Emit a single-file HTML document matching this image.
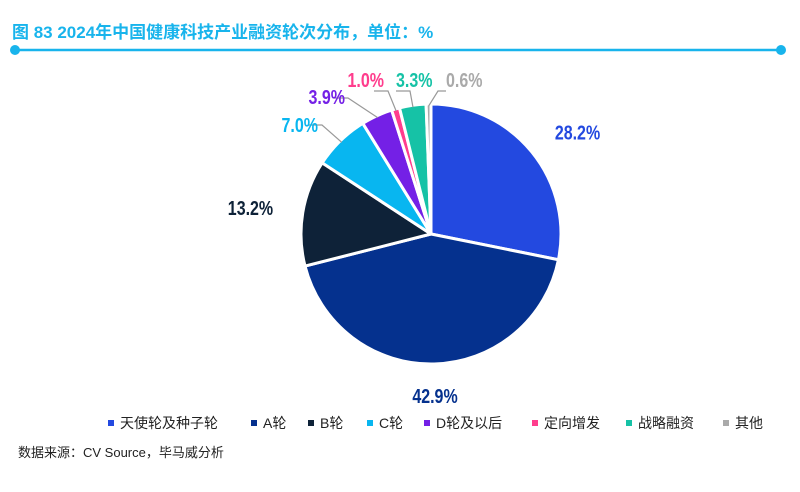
<!DOCTYPE html>
<html><head><meta charset="utf-8"><style>
body{margin:0;background:#fff;width:800px;height:487px;overflow:hidden;font-family:"Liberation Sans","Noto Sans CJK SC",sans-serif}
</style></head><body>
<svg width="800" height="487">
<text x="12" y="38" font-size="17" font-weight="bold" fill="#18b4ec" font-family="Liberation Sans, Noto Sans CJK SC, sans-serif">图 83 2024年中国健康科技产业融资轮次分布，单位：%</text>
<line x1="15" y1="50" x2="781" y2="50" stroke="#18b4ec" stroke-width="2.5"/>
<circle cx="15" cy="50" r="5" fill="#18b4ec"/>
<circle cx="781" cy="50" r="5" fill="#18b4ec"/>
<g id="pie"></g>
<g id="legend"></g>
<text x="18" y="457" font-size="13" fill="#222">数据来源：CV Source，毕马威分析</text>
</svg>
<script>
const categories=["天使轮及种子轮","A轮","B轮","C轮","D轮及以后","定向增发","战略融资","其他"];
const values=[28.2,42.9,13.2,7.0,3.9,1.0,3.3,0.6];
const colors=["#2349e0","#05318e","#0e2238","#08b6f0","#7420e6","#ff3d8d","#16c2a6","#aaaaaa"];
const NS="http://www.w3.org/2000/svg";
const cx=431,cy=234,r=130;
const pie=document.getElementById('pie');
const total=values.reduce((a,b)=>a+b,0);
function mk(t,a){const e=document.createElementNS(NS,t);for(const k in a)e.setAttribute(k,a[k]);return e;}
const smallLayout={3:{tx:318,ty:132,ex:322,ey:125},4:{tx:345,ty:104,ex:348,ey:98},5:{tx:384,ty:87,ex:388,ey:91},6:{tx:396,ty:87,ex:410,ey:91},7:{tx:446,ty:87,ex:438,ey:91}};
let ang=0;
values.forEach((v,i)=>{
  const a0=ang/total*2*Math.PI,a1=(ang+v)/total*2*Math.PI;ang+=v;
  const p=(a)=>[cx+r*Math.sin(a),cy-r*Math.cos(a)];
  const [x0,y0]=p(a0),[x1,y1]=p(a1);
  const path=mk('path',{d:`M${cx},${cy}L${x0},${y0}A${r},${r} 0 ${a1-a0>Math.PI?1:0} 1 ${x1},${y1}Z`,fill:colors[i],stroke:'#fff','stroke-width':3});
  
  
  pie.appendChild(path);
  const am=(a0+a1)/2;
  let lx,ly,anchor;
  const L=smallLayout[i];
  if(v<8&&L){
    const sx=cx+(r-2)*Math.sin(am),sy=cy-(r-2)*Math.cos(am);
    const right=i===7;
    const hx=right?L.ex+8:L.ex-14;
    const ln=mk('polyline',{points:`${sx},${sy} ${L.ex},${L.ey} ${hx},${L.ey}`,fill:'none',stroke:'#999','stroke-width':1.2});
    
    
    pie.appendChild(ln);
    anchor=(i===6||i===7)?'start':'end';
    lx=L.tx;ly=L.ty;
  }else{
    const lr=r+30;
    lx=cx+lr*Math.sin(am);ly=cy-lr*Math.cos(am)+7;
    anchor=Math.sin(am)>0.3?'start':(Math.sin(am)<-0.3?'end':'middle');
    if(anchor==='middle')ly+=2;
  }
  const t=mk('text',{x:lx,y:ly,'text-anchor':anchor,'font-size':20,'font-weight':'bold',fill:colors[i],transform:`translate(${lx},0) scale(0.8,1) translate(${-lx},0)`});
  t.textContent=v.toFixed(1)+'%';
  
  
  pie.appendChild(t);
});
const lg=document.getElementById('legend');
const lx=[108,251,308,367,424,532,626,723];
categories.forEach((c,i)=>{
  const g=mk('g',{});
  
  
  g.appendChild(mk('rect',{x:lx[i],y:420,width:6,height:6,fill:colors[i]}));
  const t=mk('text',{x:lx[i]+12,y:428,'font-size':14,fill:'#222'});
  t.textContent=c;g.appendChild(t);lg.appendChild(g);
});
</script>
</body></html>
